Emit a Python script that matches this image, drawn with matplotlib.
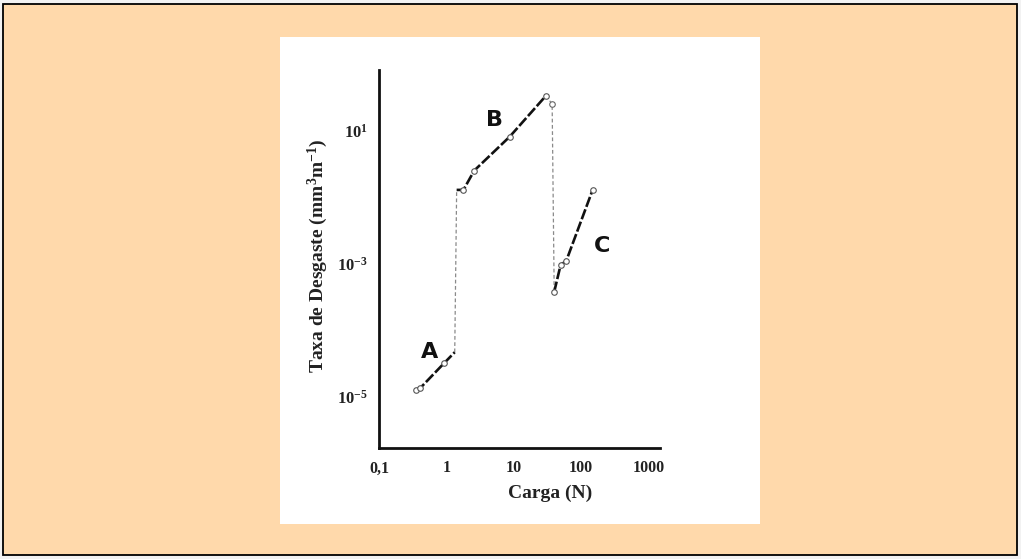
import numpy as np
import matplotlib
matplotlib.use("Agg")
import matplotlib.pyplot as plt
from matplotlib.patches import Rectangle

# ---------------- data ----------------
A_load = [0.35, 0.41, 0.92, 1.33]
A_rate = [1.27e-5, 1.36e-5, 3.2e-5, 4.7e-5]

B_load = [1.42, 1.79, 2.59, 8.7, 29.9]
B_rate = [0.17, 0.17, 0.65, 6.8, 115]

C_load = [39.8, 49.6, 60.0, 148.0]
C_rate = [3.8e-4, 9.7e-4, 1.23e-3, 0.17]

# transitions (thin dashed connectors)
T1_load = [1.33, 1.42]
T1_rate = [4.7e-5, 0.17]
T2_load = [29.9, 37.1, 39.8]
T2_rate = [115, 66, 3.8e-4]

regime_labels = ["A", "B", "C"]
regime_label_load = [0.57, 5.25, 202]
regime_label_rate = [4.8e-5, 21.7, 3.5e-3]

x_ticks = [0.1, 1, 10, 100, 1000]
x_ticklabels = ["0,1", "1", "10", "100", "1000"]
y_ticks = [1e1, 1e-3, 1e-5]
y_ticklabels = [r"$\mathbf{10^{1}}$", r"$\mathbf{10^{-3}}$", r"$\mathbf{10^{-5}}$"]

# ---------------- style ----------------
plt.rcParams["mathtext.fontset"] = "custom"
plt.rcParams["mathtext.rm"] = "Liberation Serif"
plt.rcParams["mathtext.bf"] = "Liberation Serif:bold"
plt.rcParams["mathtext.it"] = "Liberation Serif:italic"

W, H = 1021, 559
fig = plt.figure(figsize=(W / 100, H / 100), dpi=100, facecolor="#f2f2f2")

# orange frame and white panel
fig.patches.append(Rectangle((3 / W, 4 / H), (1017 - 3) / W, (555 - 4) / H,
                             transform=fig.transFigure, facecolor="#FFD9AB",
                             edgecolor="black", linewidth=1.3, zorder=0))
fig.patches.append(Rectangle((280 / W, (H - 524) / H), 480 / W, (524 - 37) / H,
                             transform=fig.transFigure, facecolor="white",
                             edgecolor="none", zorder=0.5))

ax = fig.add_axes([379 / W, (H - 448) / H, (660 - 379) / W, (448 - 70) / H])
ax.set_facecolor("none")
ax.set_zorder(5)


def fwd(y):
    L = np.log10(np.clip(np.asarray(y, dtype=float), 1e-300, None))
    return np.where(L <= -3, 2 * (L + 3), L + 3)


def inv(t):
    t = np.asarray(t, dtype=float)
    L = np.where(t <= 0, t / 2 - 3, t - 3)
    return 10.0 ** L


ax.set_xscale("log")
ax.set_yscale("function", functions=(fwd, inv))
ax.set_xlim(0.1137, 1479)
ax.set_ylim(1.7e-6, 692)

conn = dict(color="#8a8a8a", lw=0.9, linestyle=(0, (3, 2)), zorder=2)
ax.plot(T1_load, T1_rate, **conn)
ax.plot(T2_load, T2_rate, **conn)
ax.plot(T2_load[1:2], T2_rate[1:2], "o", ms=4, mfc="white", mec="#666666", mew=0.8, zorder=4)

seg = dict(color="#111111", lw=1.9, linestyle=(0, (4, 1)), zorder=3)
mk = dict(marker="o", ms=4, mfc="white", mec="#555555", mew=0.8)
ax.plot(A_load, A_rate, markevery=[0, 1, 2], **seg, **mk)
ax.plot(B_load, B_rate, markevery=[1, 2, 3, 4], **seg, **mk)
ax.plot(C_load, C_rate, **seg, **mk)

for lab, xl, yl in zip(regime_labels, regime_label_load, regime_label_rate):
    ax.text(xl, yl, lab, fontsize=16, family="DejaVu Sans", fontweight="bold",
            ha="center", va="center", color="#111111")

ax.set_xticks(x_ticks)
ax.set_xticklabels(x_ticklabels, family="Liberation Serif", fontweight="bold", fontsize=11.5)
ax.xaxis.set_minor_locator(matplotlib.ticker.NullLocator())
ax.set_yticks(y_ticks)
ax.set_yticklabels(y_ticklabels, fontsize=12)
ax.yaxis.set_minor_locator(matplotlib.ticker.NullLocator())
ax.tick_params(axis="both", length=0, colors="#222222")
ax.tick_params(axis="x", pad=9)
ax.tick_params(axis="y", pad=8)

for s in ["top", "right"]:
    ax.spines[s].set_visible(False)
for s in ["left", "bottom"]:
    ax.spines[s].set_linewidth(2)
    ax.spines[s].set_color("#111111")

ax.set_xlabel("Carga (N)", family="Liberation Serif", fontsize=14, fontweight="bold",
              color="#222222")
ax.xaxis.set_label_coords((550 - 379) / 281, (448 - 485) / 378)
ax.set_ylabel(r"Taxa de Desgaste (mm$^{\mathbf{3}}$m$^{\mathbf{-1}}$)", family="Liberation Serif",
              fontsize=14, fontweight="bold", color="#222222")
ax.yaxis.set_label_coords((330 - 379) / 281, (448 - 256) / 378)

fig.savefig("out.png", dpi=100, facecolor=fig.get_facecolor())
